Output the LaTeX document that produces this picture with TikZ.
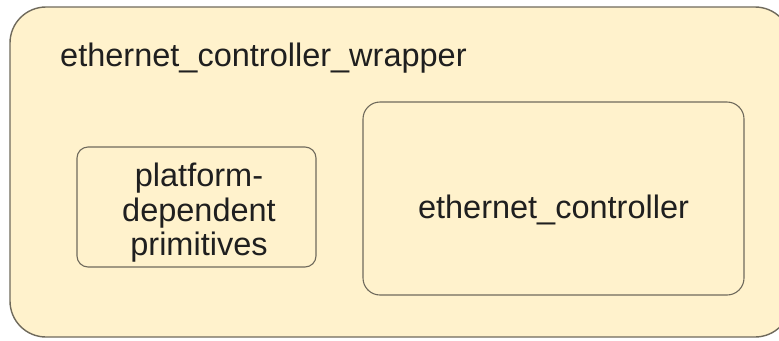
\documentclass[tikz,border=0pt]{standalone}
\usepackage{fontspec}
\setmainfont{Liberation Sans}
\definecolor{boxfill}{HTML}{FFF2CC}
\definecolor{boxline}{HTML}{6F6A5C}
% label font: fixed line pitch, no extra lineskip between lines
\newcommand\blocklabelfont{\fontsize{32.5bp}{34.5bp}\selectfont\setlength{\lineskiplimit}{-50bp}}
\begin{document}
\begin{tikzpicture}[x=1bp,y=-1bp,
  blockbox/.style={draw=boxline, fill=boxfill, line width=1.1bp},
  labeltext/.style={font=\blocklabelfont, inner sep=0pt, text=black!88}]
  \useasboundingbox[fill=white] (0,0) rectangle (779,340);
  % outer wrapper block (runs past the right edge)
  \draw[blockbox, line width=1.4bp, rounded corners=36bp] (10,7) rectangle (791,337);
  \node[labeltext, anchor=base west] (wraplabel) at (60,66) {ethernet\_controller\_wrapper};
  % platform-dependent primitives block
  \draw[blockbox, rounded corners=11bp] (77,147) rectangle (316,267);
  \node[labeltext, align=center] (primlabel) at (199,213) {platform-\\dependent\\primitives};
  % ethernet controller block
  \draw[blockbox, rounded corners=17bp] (363,102) rectangle (744,295);
  \node[labeltext, anchor=base] (ctrllabel) at (553.5,218) {ethernet\_controller};
\end{tikzpicture}
\end{document}
